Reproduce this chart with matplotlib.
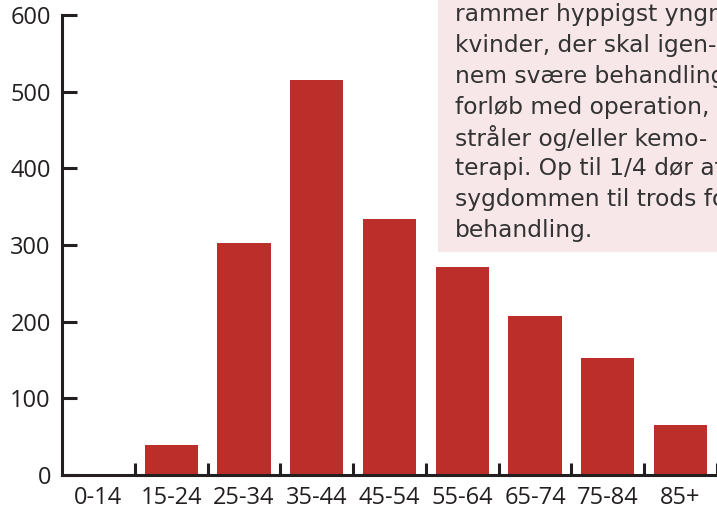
import numpy as np
import matplotlib
matplotlib.use("Agg")
from matplotlib import pyplot as plt
from matplotlib.patches import Rectangle

# age groups and number of cases
age_groups = ["0-14", "15-24", "25-34", "35-44", "45-54", "55-64", "65-74", "75-84", "85+"]
cases = [1, 39, 302, 515, 334, 271, 207, 152, 65]
y_ticks = [0, 100, 200, 300, 400, 500, 600]

box_lines = [
    "rammer hyppigst yngre",
    "kvinder, der skal igen-",
    "nem svære behandlings-",
    "forløb med operation,",
    "stråler og/eller kemo-",
    "terapi. Op til 1/4 dør af",
    "sygdommen til trods for",
    "behandling.",
]

bar_color = "#bb2e29"
axis_color = "#231f20"
box_color = "#f7e7e9"
text_color = "#333333"

W, H = 717, 509
fig = plt.figure(figsize=(W / 100, H / 100), dpi=100)
ax = fig.add_axes([62 / W, 1 - 475 / H, (717 - 62) / W, (475 - 15) / H])

x = np.arange(len(age_groups))
ax.bar(x, cases, width=0.73, color=bar_color, zorder=2)

ax.set_xlim(-0.5, len(age_groups) - 0.5)
ax.set_ylim(0, 600)

for side in ["top", "right"]:
    ax.spines[side].set_visible(False)
for side in ["left", "bottom"]:
    ax.spines[side].set_color(axis_color)
    ax.spines[side].set_linewidth(2.2)
    ax.spines[side].set_zorder(3)

ax.set_yticks(y_ticks)
ax.tick_params(axis="y", direction="in", length=11, width=2.2, color=axis_color,
               pad=8, labelsize=17, labelcolor=axis_color)
ax.set_xticks(x)
ax.set_xticklabels(age_groups)
ax.set_xticks(np.arange(len(age_groups)) + 0.5, minor=True)
ax.tick_params(axis="x", which="major", length=0, pad=8, labelsize=17, labelcolor=axis_color)
ax.tick_params(axis="x", which="minor", direction="in", length=9, width=2.2, color=axis_color)
for lab in ax.get_xticklabels() + ax.get_yticklabels():
    lab.set_fontfamily("Open Sans")

# info box at top right (text runs off the right edge as in the source)
box = Rectangle((438 / W, 1 - 252 / H), (W - 438) / W, 252 / H,
                transform=fig.transFigure, facecolor=box_color, edgecolor="none", zorder=5)
fig.patches.append(box)
for i, line in enumerate(box_lines):
    y_px = 15 + i * 30.8
    fig.text(455 / W, 1 - y_px / H, line, fontsize=16.8, family="DejaVu Sans",
             color=text_color, va="center", ha="left", zorder=6)

fig.savefig("out.png", dpi=100)
